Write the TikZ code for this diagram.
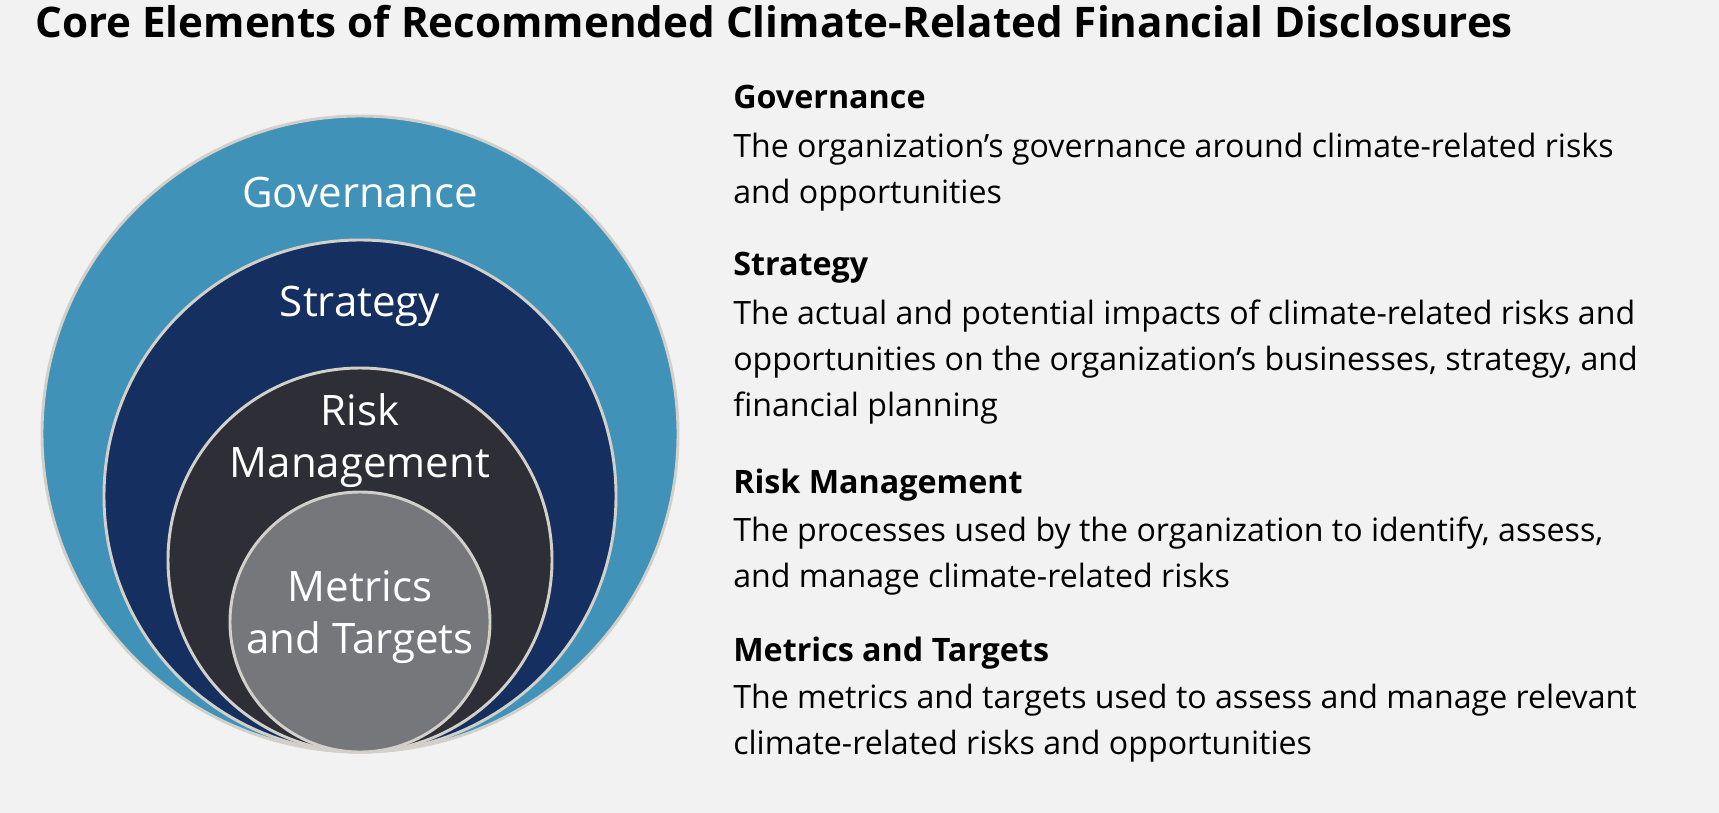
\documentclass[tikz,border=0pt]{standalone}
\usepackage{fontspec}
\setmainfont{Open Sans}
\usepackage{tikz}
\definecolor{bgcol}{HTML}{F2F2F2}
\definecolor{govcol}{HTML}{4192B9}
\definecolor{stratcol}{HTML}{152F60}
\definecolor{riskcol}{HTML}{2E2E37}
\definecolor{metcol}{HTML}{76777B}
\definecolor{rimcol}{HTML}{D2D0C8}
\newcommand{\lines}[2]{\begin{tabular}[t]{@{}#1@{}}#2\end{tabular}}
\tikzset{
	ring/.style={circle,draw=rimcol,line width=2.2pt,inner sep=0pt},
	lab/.style={white,font=\fontsize{31.5pt}{39pt}\selectfont,anchor=base,inner sep=0pt},
	head/.style={font=\fontsize{24.2pt}{29pt}\selectfont\bfseries,anchor=base west,inner sep=0pt},
	body/.style={font=\fontsize{24.1pt}{34.5pt}\selectfont,anchor=base west,inner sep=0pt},
	ttl/.style={font=\fontsize{31.6pt}{38pt}\selectfont\bfseries,anchor=base west,inner sep=0pt},
}

\begin{document}
\begin{tikzpicture}[x=0.75pt,y=-0.75pt]
%SFONDO
\fill[bgcol] (0,0) rectangle (1719,813);
\useasboundingbox (0,0) rectangle (1719,813);
%TITOLO
\node[ttl] (title) at (35,38) {Core Elements of Recommended Climate-Related Financial Disclosures};
%CERCHI
\node[ring,fill=govcol,minimum size=477pt] (cgov) at (360,434) {};
\node[ring,fill=stratcol,minimum size=384pt] (cstr) at (360,496) {};
\node[ring,fill=riskcol,minimum size=288pt] (crisk) at (360,560) {};
\node[ring,fill=metcol,minimum size=195pt] (cmet) at (360,622) {};
%ETICHETTE CERCHI
\node[lab] (lgov) at (360,207) {Governance};
\node[lab] (lstr) at (360,316) {Strategy};
\node[lab] (lrisk) at (360,425) {\lines{c}{Risk\\Management}};
\node[lab] (lmet) at (360,601) {\lines{c}{Metrics\\and Targets}};
%TESTO A DESTRA
\node[head] (hgov) at (733,109) {Governance};
\node[body] (tgov) at (733,157) {\lines{l}{The organization’s governance around climate-related risks\\and opportunities}};
\node[head] (hstr) at (733,275) {Strategy};
\node[body] (tstr) at (733,324) {\lines{l}{The actual and potential impacts of climate-related risks and\\opportunities on the organization’s businesses, strategy, and\\financial planning}};
\node[head] (hrisk) at (733,493) {Risk Management};
\node[body] (trisk) at (733,541) {\lines{l}{The processes used by the organization to identify, assess,\\and manage climate-related risks}};
\node[head] (hmet) at (733,661) {Metrics and Targets};
\node[body] (tmet) at (733,708) {\lines{l}{The metrics and targets used to assess and manage relevant\\climate-related risks and opportunities}};
\end{tikzpicture}
\end{document}
